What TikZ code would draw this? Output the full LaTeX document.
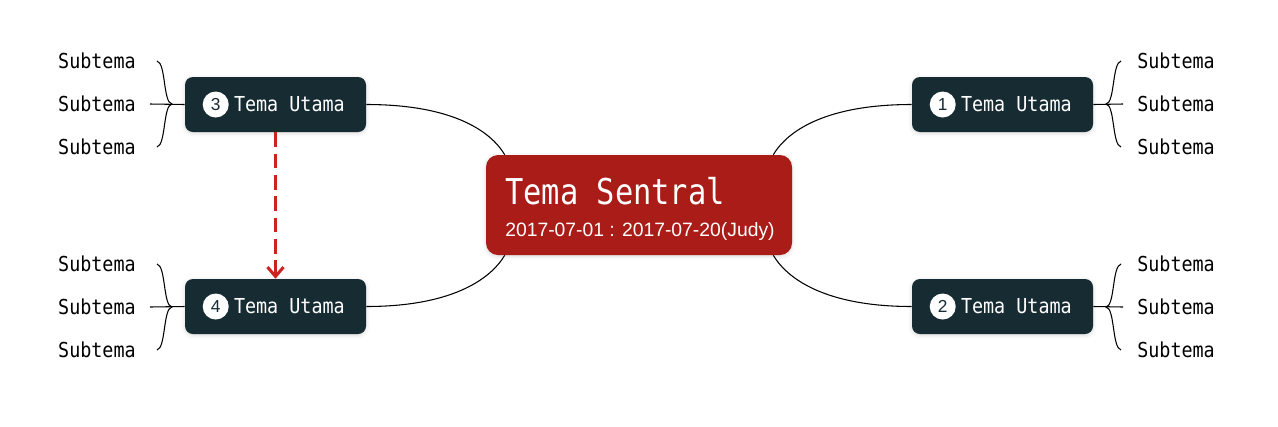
\documentclass[tikz,border=0pt]{standalone}
\usepackage{fontspec}
\setmainfont{Liberation Sans}
\setmonofont{DejaVu Sans Mono}
\usepackage{xcolor}
\usepackage{tikz}
\usetikzlibrary{arrows.meta,positioning,calc,shadows.blur}
\definecolor{centralred}{HTML}{A91C17}
\definecolor{topicdark}{HTML}{172B33}
\definecolor{linkred}{HTML}{CC2320}
\newcommand{\tallmono}[2]{\scalebox{1}[#1]{#2}}

\begin{document}
\begin{tikzpicture}[x=0.75pt, y=-0.75pt,
  central/.style={rectangle, rounded corners=9pt, fill=centralred,
    minimum width=229.5pt, minimum height=75pt,
    blur shadow={shadow xshift=0pt, shadow yshift=-1pt, shadow blur radius=3pt, shadow opacity=15}},
  topic/.style={rectangle, rounded corners=6pt, fill=topicdark,
    minimum width=135.75pt, minimum height=41.25pt,
    blur shadow={shadow xshift=0pt, shadow yshift=-1pt, shadow blur radius=3pt, shadow opacity=15}},
  num/.style={circle, fill=white, inner sep=0pt, minimum size=19.5pt,
    text=topicdark, font=\fontsize{13}{14}\selectfont},
  topiclabel/.style={anchor=west, inner sep=0pt, text=white,
    font=\ttfamily\fontsize{13.8}{16}\selectfont},
  sub/.style={inner sep=0pt, font=\ttfamily\fontsize{13.8}{16}\selectfont},
  branch/.style={black, line width=0.8pt},
  link/.style={linkred, line width=2.25pt, dash pattern=on 11pt off 5pt,
    -{Straight Barb[length=7pt,width=12pt]}}]
  \useasboundingbox (0,0) rectangle (1278,426);
  % Central topic
  \node[central] (c) at (639,205) {};
  \node[anchor=base west, inner sep=0pt, text=white,
    font=\ttfamily\fontsize{22.8}{26}\selectfont] (ctitle) at (505,204) {\tallmono{1.17}{Tema Sentral}};
  \node[anchor=base west, inner sep=0pt, text=white,
    font=\fontsize{14.5}{17}\selectfont] (cdate) at (505,236) {2017-07-01 : 2017-07-20(Judy)};
  % Main topics
  \foreach \i/\x/\y in {1/1002.5/104.5, 2/1002.5/306.5, 3/275.5/104.5, 4/275.5/306.5} {
    \node[topic] (t\i) at (\x,\y) {};
    \node[num] (n\i) at ($(t\i.west)+(31,0)$) {\i};
    \node[topiclabel] (l\i) at ($(t\i.west)+(49,0)$) {\tallmono{1.12}{Tema Utama}};
  }
  % Subtopics, left
  \foreach \i/\y in {3/104, 4/307} {
    \node[sub, anchor=east] (s\i a) at (136,\y-43) {\tallmono{1.12}{Subtema}};
    \node[sub, anchor=east] (s\i b) at (136,\y) {\tallmono{1.12}{Subtema}};
    \node[sub, anchor=east] (s\i c) at (136,\y+43) {\tallmono{1.12}{Subtema}};
    \coordinate (j\i) at ($(s\i b.east)+(36,0)$);
    \draw[branch] (t\i.west) -- ($(s\i b.east)+(14,0)$);
    \draw[branch] ($(s\i a.east)+(21,0)$) .. controls +(9,2) and +(-9,-1) .. (j\i)
      .. controls +(-9,1) and +(9,-2) .. ($(s\i c.east)+(21,0)$);
  }
  % Subtopics, right
  \foreach \i/\y in {1/104, 2/307} {
    \node[sub, anchor=west] (s\i a) at (1137,\y-43) {\tallmono{1.12}{Subtema}};
    \node[sub, anchor=west] (s\i b) at (1137,\y) {\tallmono{1.12}{Subtema}};
    \node[sub, anchor=west] (s\i c) at (1137,\y+43) {\tallmono{1.12}{Subtema}};
    \coordinate (j\i) at ($(s\i b.west)+(-31,0)$);
    \draw[branch] (t\i.east) -- ($(s\i b.west)+(-14,0)$);
    \draw[branch] ($(s\i a.west)+(-16,0)$) .. controls +(-9,2) and +(9,-1) .. (j\i)
      .. controls +(9,1) and +(-9,-2) .. ($(s\i c.west)+(-16,0)$);
  }
  % Links to the central topic
  \draw[branch] (t3.east) .. controls +(84,0) and +(-15,-25) .. ($(c.north west)+(19,0)$);
  \draw[branch] (t4.east) .. controls +(84,0) and +(-15,25) .. ($(c.south west)+(19,0)$);
  \draw[branch] (t1.west) .. controls +(-84,0) and +(15,-25) .. ($(c.north east)+(-19,0)$);
  \draw[branch] (t2.west) .. controls +(-84,0) and +(15,25) .. ($(c.south east)+(-19,0)$);
  % Relation
  \draw[link] (t3.south) -- (t4.north);
\end{tikzpicture}
\end{document}
